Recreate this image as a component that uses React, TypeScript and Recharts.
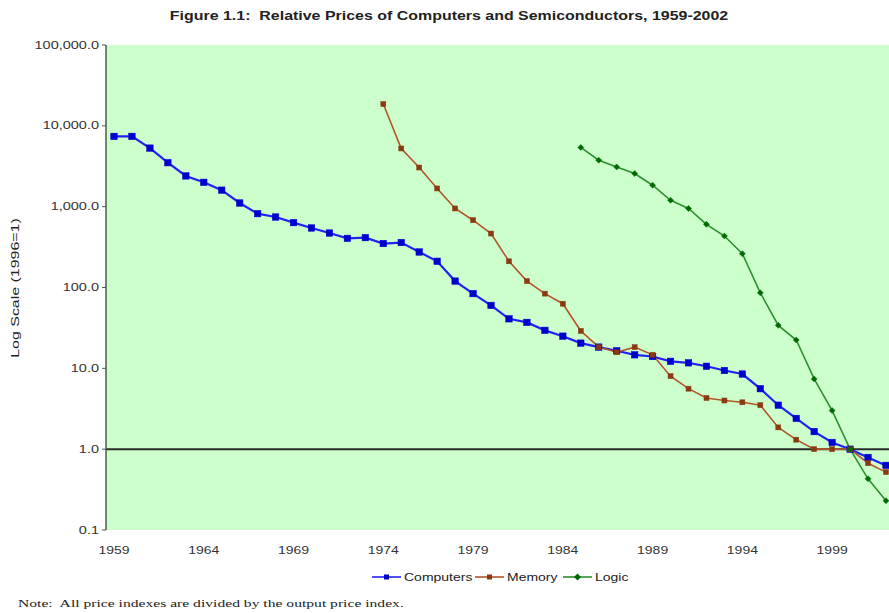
import React from 'react';
import { LineChart, Line, XAxis, YAxis, CartesianGrid, ReferenceLine } from 'recharts';

const years = [
  1959, 1960, 1961, 1962, 1963, 1964, 1965, 1966, 1967, 1968, 1969, 1970, 1971, 1972, 1973,
  1974, 1975, 1976, 1977, 1978, 1979, 1980, 1981, 1982, 1983, 1984, 1985, 1986, 1987, 1988,
  1989, 1990, 1991, 1992, 1993, 1994, 1995, 1996, 1997, 1998, 1999, 2000, 2001, 2002,
];

const computers = [
  7400, 7400, 5300, 3500, 2400, 2000, 1600, 1110, 820, 745, 635, 545, 472, 405, 414,
  350, 360, 275, 211, 120, 84, 60, 41, 37, 29.5, 25, 20.5, 18.3, 16.5, 14.7,
  14, 12.2, 11.7, 10.6, 9.4, 8.5, 5.6, 3.5, 2.4, 1.65, 1.21, 1.0, 0.79, 0.63,
];

const memory = [
  null, null, null, null, null, null, null, null, null, null, null, null, null, null, null,
  18600, 5250, 3050, 1680, 950, 680, 465, 211, 120, 84, 63, 29, 18.3, 15.8, 18.3,
  14.7, 8.0, 5.6, 4.3, 4.0, 3.8, 3.5, 1.86, 1.31, 1.0, 1.0, 1.0, 0.67, 0.52,
];

const logic = [
  null, null, null, null, null, null, null, null, null, null, null, null, null, null, null,
  null, null, null, null, null, null, null, null, null, null, null, 5400, 3760, 3100, 2570,
  1840, 1200, 950, 605, 433, 262, 86, 34, 22.4, 7.4, 3.0, 1.0, 0.43, 0.23,
];

const yTicks = [0.1, 1, 10, 100, 1000, 10000, 100000];

const seriesNames = ['Computers', 'Memory', 'Logic'];

const data = years.map((year, i) => ({
  year,
  Computers: computers[i],
  Memory: memory[i],
  Logic: logic[i],
}));

const SANS = '"Liberation Sans", Arial, Helvetica, sans-serif';
const SERIF = '"Liberation Serif", "Times New Roman", serif';

const BLUE_LINE = '#2222f0';
const BLUE_MARK = '#0000cc';
const BROWN_LINE = '#b0562a';
const BROWN_MARK = '#8a3a12';
const GREEN_LINE = '#2f8f2f';
const GREEN_MARK = '#006a00';

const fmtY = (v: number) =>
  v.toLocaleString('en-US', { minimumFractionDigits: 1, maximumFractionDigits: 1 });

const XTick = (props: any) => {
  const { x, y, payload } = props;
  return (
    <g transform={`translate(${x},${y})`}>
      <text
        textAnchor="middle"
        dy="0.35em"
        transform="scale(1.4,1)"
        fontSize={10}
        fill="#333"
        fontFamily={SANS}
      >
        {payload.value}
      </text>
    </g>
  );
};

const YTick = (props: any) => {
  const { x, y, payload } = props;
  return (
    <g transform={`translate(${x},${y})`}>
      <text
        textAnchor="end"
        dy="0.35em"
        transform="scale(1.45,1)"
        fontSize={10}
        fill="#333"
        fontFamily={SANS}
      >
        {fmtY(payload.value)}
      </text>
    </g>
  );
};

const squareDot = (size: number, fill: string, name: string) => (p: any) => {
  if (p.cy == null || p.cx == null || p.value == null) return <g key={`${name}-${p.index}`} />;
  return (
    <rect
      key={`${name}-${p.index}`}
      x={p.cx - size / 2}
      y={p.cy - size / 2}
      width={size}
      height={size}
      fill={fill}
      stroke={fill}
      strokeWidth={0.5}
    />
  );
};

const diamondDot = (size: number, fill: string, name: string) => (p: any) => {
  if (p.cy == null || p.cx == null || p.value == null) return <g key={`${name}-${p.index}`} />;
  const h = size / 2;
  return (
    <path
      key={`${name}-${p.index}`}
      d={`M${p.cx},${p.cy - h}L${p.cx + h},${p.cy}L${p.cx},${p.cy + h}L${p.cx - h},${p.cy}Z`}
      fill={fill}
      stroke={fill}
      strokeWidth={0.5}
    />
  );
};

const legendItems = [
  { name: seriesNames[0], line: BLUE_LINE, mark: BLUE_MARK, x: 372 },
  { name: seriesNames[1], line: BROWN_LINE, mark: BROWN_MARK, x: 475 },
  { name: seriesNames[2], line: GREEN_LINE, mark: GREEN_MARK, x: 563 },
];

export default function App() {
  return (
    <div
      style={{
        position: 'fixed',
        left: 0,
        top: 0,
        width: 889,
        height: 613,
        overflow: 'hidden',
        background: '#ffffff',
      }}
    >
      <LineChart
        width={900}
        height={613}
        data={data}
        margin={{ top: 45, right: 5, bottom: 0, left: 0 }}
      >
        <CartesianGrid horizontal={false} vertical={false} fill="#ccffcc" />
        <XAxis
          dataKey="year"
          height={83}
          axisLine={false}
          tickLine={false}
          tickSize={0}
          tickMargin={20}
          interval={4}
          padding={{ left: 8, right: 9 }}
          tick={<XTick />}
        />
        <YAxis
          scale="log"
          domain={[0.1, 100000]}
          ticks={yTicks}
          allowDataOverflow
          width={106}
          tickSize={4}
          tickMargin={3}
          axisLine={{ stroke: '#4d5a4d', strokeWidth: 1.5 }}
          tickLine={{ stroke: '#4d5a4d', strokeWidth: 1 }}
          tick={<YTick />}
        />
        <ReferenceLine y={1} stroke="#2a2a2a" strokeWidth={2} />
        <Line
          dataKey="Computers"
          stroke={BLUE_LINE}
          strokeWidth={2.2}
          dot={squareDot(6.5, BLUE_MARK, 'c')}
          isAnimationActive={false}
          connectNulls={false}
        />
        <Line
          dataKey="Memory"
          stroke={BROWN_LINE}
          strokeWidth={1.6}
          dot={squareDot(5, BROWN_MARK, 'm')}
          isAnimationActive={false}
          connectNulls={false}
        />
        <Line
          dataKey="Logic"
          stroke={GREEN_LINE}
          strokeWidth={1.6}
          dot={diamondDot(6, GREEN_MARK, 'l')}
          isAnimationActive={false}
          connectNulls={false}
        />
      </LineChart>
      <svg
        width={889}
        height={613}
        style={{ position: 'absolute', left: 0, top: 0, pointerEvents: 'none' }}
      >
        <text
          transform="translate(449,16) scale(1.33,1)"
          textAnchor="middle"
          dy="0.35em"
          fontSize={12}
          fontWeight="bold"
          fill="#222"
          fontFamily={SANS}
        >
          {'Figure 1.1:\u00a0 Relative Prices of Computers and Semiconductors, 1959-2002'}
        </text>
        <text
          transform="translate(15,288) rotate(-90) scale(1.45,1)"
          textAnchor="middle"
          dy="0.35em"
          fontSize={11}
          fill="#222"
          fontFamily={SANS}
        >
          Log Scale (1996=1)
        </text>
        {legendItems.map((it, i) => (
          <g key={it.name} transform={`translate(${it.x},577)`}>
            <line x1={0} y1={0} x2={29} y2={0} stroke={it.line} strokeWidth={1.6} />
            {i === 2 ? (
              <path d="M14.5,-3.5L18,0L14.5,3.5L11,0Z" fill={it.mark} />
            ) : (
              <rect x={12} y={-2.5} width={5} height={5} fill={it.mark} />
            )}
            <text
              transform="translate(32,0) scale(1.4,1)"
              dy="0.35em"
              fontSize={10}
              fill="#222"
              fontFamily={SANS}
            >
              {it.name}
            </text>
          </g>
        ))}
        <text
          transform="translate(18,603) scale(1.42,1)"
          dy="0.35em"
          fontSize={11}
          fill="#222"
          fontFamily={SERIF}
        >
          {'Note:\u00a0 All price indexes are divided by the output price index.'}
        </text>
      </svg>
    </div>
  );
}
